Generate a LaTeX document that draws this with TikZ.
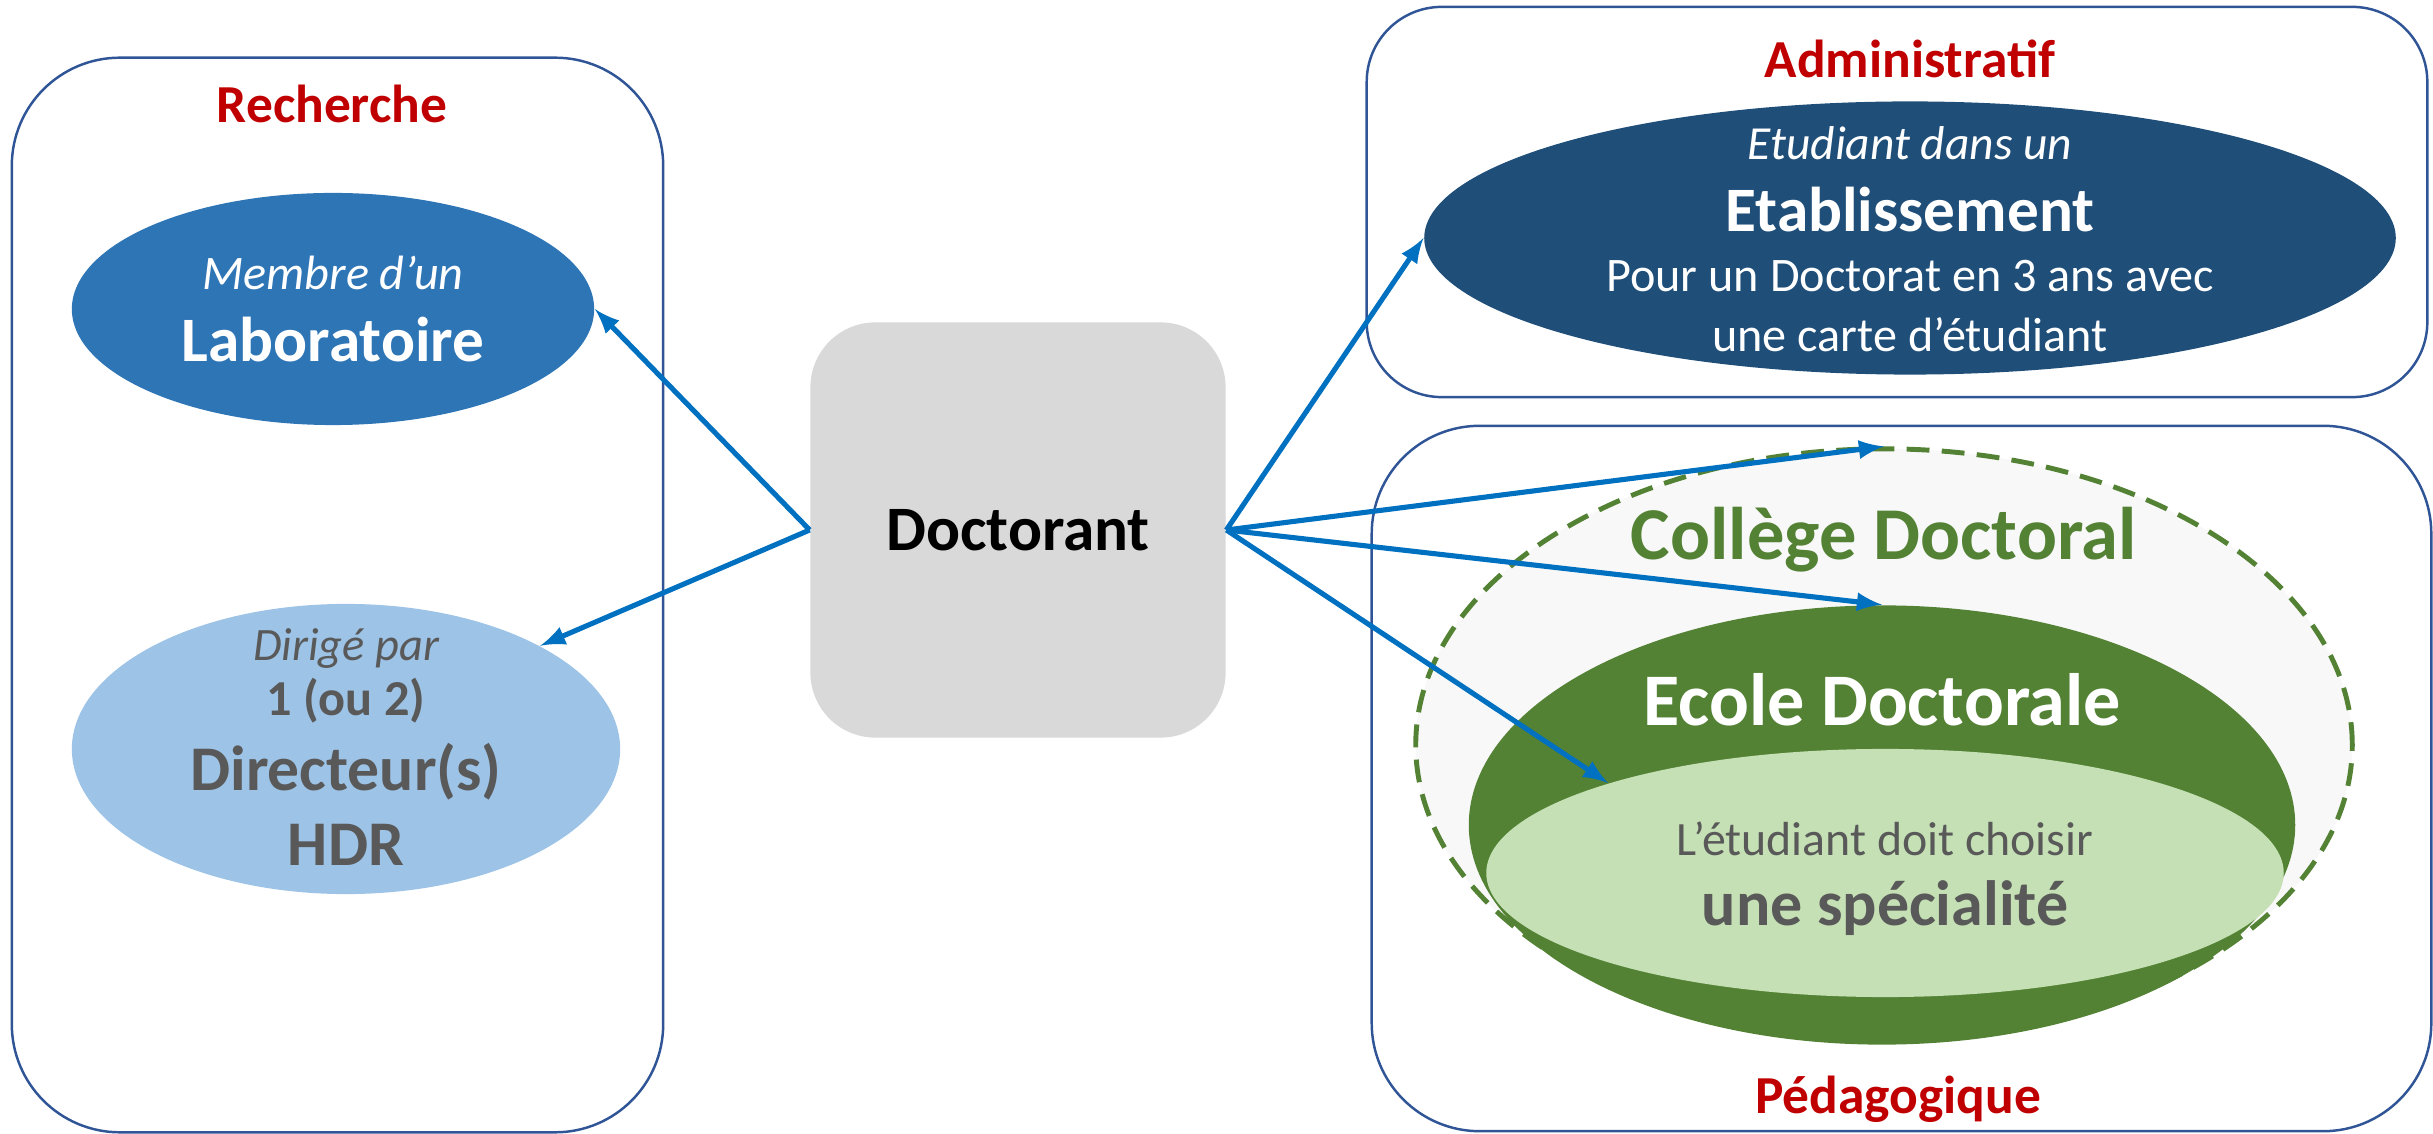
\documentclass[tikz,border=0pt]{standalone}
\usepackage{fontspec}
\setmainfont{Carlito}
\usepackage{tikz}
\usetikzlibrary{shapes.geometric,positioning}
\definecolor{panelblue}{HTML}{2F5597}
\definecolor{titlered}{HTML}{C00000}
\definecolor{linkblue}{HTML}{0070C0}
\definecolor{labblue}{HTML}{2E75B6}
\definecolor{dirblue}{HTML}{9DC3E6}
\definecolor{etabblue}{HTML}{1F4E79}
\definecolor{docgray}{HTML}{D9D9D9}
\definecolor{textgray}{HTML}{595959}
\definecolor{edgreen}{HTML}{548235}
\definecolor{specgreen}{HTML}{C5E0B4}
\definecolor{cdfill}{HTML}{F8F8F8}
\tikzset{>=latex}
\tikzstyle{link}  = [->,
                     draw=linkblue,
                     line width=1.45pt]
\tikzstyle{panel} = [rectangle,
                     draw=panelblue,
                     line width=0.7pt]
\tikzstyle{blob}  = [ellipse,
                     inner sep=0pt]
\tikzstyle{caption} = [font=\bfseries\fontsize{15.2}{19}\selectfont,
                       text=titlered,
                       anchor=base]
\tikzstyle{words} = [align=center,
                     inner sep=0pt]

\begin{document}
\begin{tikzpicture}[x=0.01cm, y=-0.01cm]
  \useasboundingbox (0,0) rectangle (2433,1134);

  % Panels
  \node[panel, rounded corners=1.08cm, minimum width=6.51cm, minimum height=10.74cm] (rech) at (337.5,595) {};
  \node[panel, rounded corners=0.75cm, minimum width=10.6cm, minimum height=3.9cm] (admin) at (1897,202) {};
  \node[panel, rounded corners=1.08cm, minimum width=10.59cm, minimum height=7.05cm] (peda) at (1901.5,778.5) {};

  \node[caption] (rechtitle) at (332,123) {Recherche};
  \node[caption] (admintitle) at (1910,78) {Administratif};
  \node[caption] (pedatitle) at (1898,1113) {Pédagogique};

  % Nodes
  \node[rectangle, fill=docgray, rounded corners=0.65cm, minimum width=4.15cm, minimum height=4.15cm,
    font=\bfseries\fontsize{18}{21}\selectfont] (doc) at (1018,530) {Doctorant};

  \node[blob, fill=labblue, minimum width=5.22cm, minimum height=2.32cm] (lab) at (333,309) {};
  \node[words, text=white, font=\fontsize{18}{20.5}\selectfont] (labtext) at (lab) {%
    {\itshape\fontsize{13.7}{16}\selectfont Membre d’un}\\
    {\bfseries Laboratoire}};

  \node[blob, fill=dirblue, minimum width=5.48cm, minimum height=2.9cm] (dir) at (346,749) {};
  \node[words, text=textgray, font=\fontsize{18.1}{21.3}\selectfont] (dirtext) at (346,747) {%
    {\itshape\fontsize{13.2}{16}\selectfont Dirigé par}\\[-5.7pt]
    {\bfseries\fontsize{14.3}{16}\selectfont 1 (ou 2)}\\
    {\bfseries Directeur(s)}\\
    {\bfseries HDR}};

  \node[blob, fill=etabblue, minimum width=9.71cm, minimum height=2.73cm] (etab) at (1910,238) {};
  \node[words, text=white, font=\fontsize{13.7}{17}\selectfont] (etabtext) at (1910,239) {%
    {\itshape\fontsize{13.5}{16}\selectfont Etudiant dans un}\\[3.5pt]
    {\bfseries\fontsize{18}{20}\selectfont Etablissement}\\
    Pour un Doctorat en 3 ans avec\\
    une carte d’étudiant};

  \node[blob, fill=cdfill, draw=edgreen, line width=1.4pt, dash pattern=on 6.5pt off 3.5pt,
    minimum width=9.36cm, minimum height=5.92cm] (college) at (1884,745) {};
  \node[blob, fill=edgreen, minimum width=8.26cm, minimum height=4.39cm] (ecole) at (1882,825) {};
  \node[blob, fill=specgreen, minimum width=7.97cm, minimum height=2.48cm] (spec) at (1885,873) {};

  \node[anchor=base, text=edgreen, font=\bfseries\fontsize{21.2}{26}\selectfont] (collegetext) at (1884,560) {Collège Doctoral};
  \node[anchor=base, text=white, font=\bfseries\fontsize{21.1}{24}\selectfont] (ecoletext) at (1882,726) {Ecole Doctorale};
  \node[words, text=textgray, font=\fontsize{13.6}{20}\selectfont] (spectext) at (1885,879) {%
    L’étudiant doit choisir\\
    {\bfseries\fontsize{18.2}{20}\selectfont une spécialité}};

  % Edges
  \draw[link] (doc.west) -- (lab.east);
  \draw[link] (doc.west) -- (dir.28);
  \draw[link] (doc.east) -- (etab.west);
  \draw[link] (doc.east) -- (college.north);
  \draw[link] (doc.east) -- (ecole.north);
  \draw[link] (doc.east) -- (spec.162);

\end{tikzpicture}
\end{document}
